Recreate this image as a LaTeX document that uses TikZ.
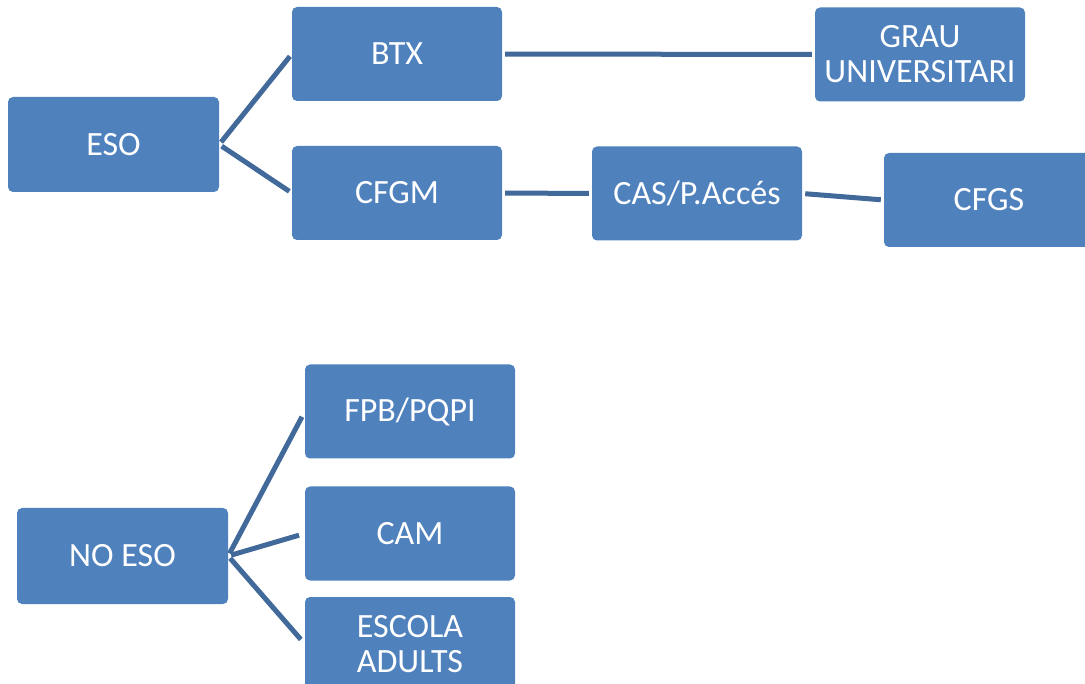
\documentclass[tikz,border=0pt]{standalone}
\usepackage{fontspec}
\setmainfont{Carlito}
\usepackage{tikz}
\usetikzlibrary{positioning}
\definecolor{boxblue}{HTML}{4F81BD}
\definecolor{lineblue}{HTML}{41699A}

\begin{document}
\begin{tikzpicture}[x=1pt, y=-1pt,
  stagebox/.style={fill=boxblue, rounded corners=5pt, minimum width=210pt, minimum height=94pt,
    inner sep=0pt, text=white, align=center, font=\fontsize{34}{35}\selectfont},
  link/.style={draw=lineblue, line width=5pt, shorten <=3pt, shorten >=3pt}]
  % page frame
  \clip (0,0) rectangle (1085,684);

  % Upper tree: with ESO
  \node[stagebox, minimum width=211pt, minimum height=95pt] (eso) at (113.5,144.5) {ESO};
  \node[stagebox] (btx) at (397,54) {BTX};
  \node[stagebox] (cfgm) at (397,193) {CFGM};
  \node[stagebox] (grau) at (920,54.5) {GRAU\\UNIVERSITARI};
  \node[stagebox] (cas) at (697,193.5) {CAS/P.Accés};
  \node[stagebox] (cfgs) at (989,200) {CFGS};

  \draw[link] (eso.east) -- (btx.west);
  \draw[link] (eso.east) -- (cfgm.west);
  \draw[link] (btx.east) -- (grau.west);
  \draw[link] (cfgm.east) -- (cas.west);
  \draw[link] (cas.east) -- (cfgs.west);

  % Lower tree: without ESO
  \node[stagebox, minimum width=211pt, minimum height=96pt] (noeso) at (122.5,556) {NO ESO};
  \node[stagebox] (fpb) at (410,411.5) {FPB/PQPI};
  \node[stagebox] (cam) at (410,533.5) {CAM};
  \node[stagebox] (adults) at (410,644) {ESCOLA\\ADULTS};

  \draw[link, shorten >=6pt] (noeso.east) -- (fpb.west);
  \draw[link, shorten >=6pt] (noeso.east) -- (cam.west);
  \draw[link, shorten >=6pt] (noeso.east) -- (adults.west);
\end{tikzpicture}
\end{document}
